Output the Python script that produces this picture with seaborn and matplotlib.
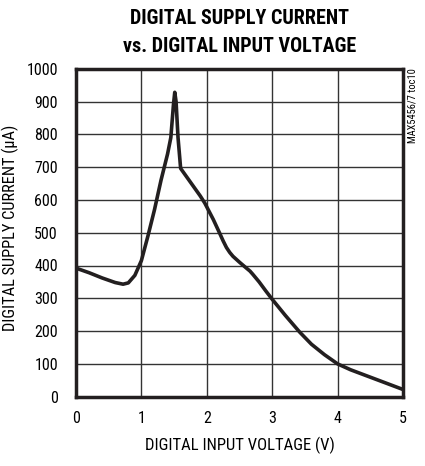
import matplotlib
matplotlib.use("Agg")
import matplotlib.pyplot as plt
import seaborn as sns
import pandas as pd
from matplotlib import font_manager

voltage = [0.0, 0.2, 0.4, 0.6, 0.72, 0.8, 0.9, 1.0, 1.1, 1.2, 1.3, 1.4, 1.45, 1.49, 1.51, 1.53, 1.56, 1.6, 1.7, 1.8, 1.9, 1.97,
           2.1, 2.2, 2.25, 2.3, 2.35, 2.4, 2.5, 2.6, 2.66, 2.7, 2.8, 2.9, 3.0, 3.2, 3.42, 3.6, 3.8, 4.0, 4.2, 4.4, 4.6, 4.8, 5.0]
current = [392, 378, 362, 348, 343, 347, 370, 415, 490, 570, 660, 740, 790, 890, 928, 900, 790, 696, 668, 640, 612, 590,
           540, 497, 475, 455, 440, 428, 410, 393, 383, 374, 350, 323, 297, 248, 197, 160, 128, 100, 82, 67, 52, 37, 22]
x_ticks = [0, 1, 2, 3, 4, 5]
y_ticks = [0, 100, 200, 300, 400, 500, 600, 700, 800, 900, 1000]

sns.set_style("white")
names = sorted({f.name for f in font_manager.fontManager.ttflist})
fam = "DejaVu Sans"
for cand in ["Liberation Sans Narrow", "Roboto Condensed", "DejaVu Sans Condensed", "Open Sans Condensed"]:
    if cand in names:
        fam = cand
        break
plt.rcParams['font.family'] = [fam, 'DejaVu Sans']
plt.rcParams['text.color'] = 'black'
plt.rcParams['axes.labelcolor'] = 'black'
plt.rcParams['xtick.color'] = 'black'
plt.rcParams['ytick.color'] = 'black'
plt.rcParams['axes.grid'] = True
plt.rcParams['grid.color'] = '#333333'
plt.rcParams['grid.linewidth'] = 1.0
plt.rcParams['grid.linestyle'] = '-'

df = pd.DataFrame({"V": voltage, "I": current})

fig = plt.figure(figsize=(4.25, 4.66), dpi=100)
ax = fig.add_axes([76/425, 1-396.7/466, (403-76)/425, (396.7-68.7)/466])
sns.lineplot(data=df, x="V", y="I", ax=ax, color="#231f20", linewidth=2.6, sort=False, zorder=3)

ax.set_xlim(0, 5)
ax.set_ylim(0, 1000)
ax.set_xticks(x_ticks)
ax.set_yticks(y_ticks)
ax.set_xticklabels([str(t) for t in x_ticks], fontsize=11.5)
ax.set_yticklabels([str(t) for t in y_ticks], fontsize=11.5)
ax.tick_params(axis='x', length=0, pad=10)
ax.tick_params(axis='y', length=0, pad=13)
ax.xaxis.grid(True, color="#333333", linewidth=1.0, linestyle='-')
ax.yaxis.grid(True, color="#333333", linewidth=1.0, linestyle='-')
ax.set_axisbelow(False)
for s in ax.spines.values():
    s.set_linewidth(2.5)
    s.set_color("#231f20")
    s.set_visible(True)
    s.set_zorder(4)
ax.set_xlabel("DIGITAL INPUT VOLTAGE (V)", fontsize=12, labelpad=8)
ax.set_ylabel("DIGITAL SUPPLY CURRENT (µA)", fontsize=11.8)
ax.yaxis.set_label_coords((19 - 76) / 327, (396.7 - 228) / 328)
fig.text(239.5/425, 1-18/466, "DIGITAL SUPPLY CURRENT", fontsize=14.5, fontweight="bold", ha="center", va="center")
fig.text(239.5/425, 1-46/466, "vs. DIGITAL INPUT VOLTAGE", fontsize=14.5, fontweight="bold", ha="center", va="center")
fig.text(413/425, 1-68/466, "MAX5456/7 toc10", rotation=90, fontsize=7.5, ha="center", va="top")

fig.savefig("out.png", dpi=100)
